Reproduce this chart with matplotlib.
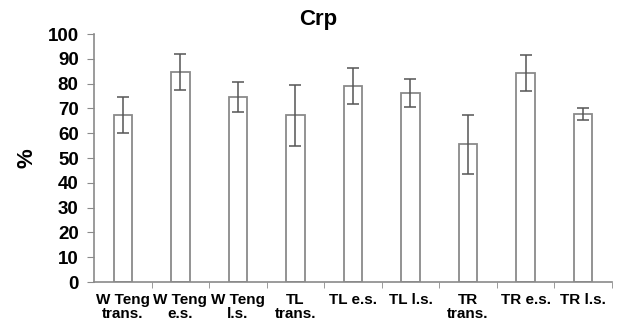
import numpy as np
import matplotlib.pyplot as plt

plt.rcParams['font.family'] = ['Liberation Sans', 'DejaVu Sans']

labels = ['W Teng\ntrans.', 'W Teng\ne.s.', 'W Teng\nl.s.', 'TL\ntrans.', 'TL e.s.',
          'TL l.s.', 'TR\ntrans.', 'TR e.s.', 'TR l.s.']
values = [67.3, 84.8, 74.5, 67.2, 79.0, 76.3, 55.6, 84.3, 67.7]
errors = [7.2, 7.3, 6.0, 12.4, 7.3, 5.7, 11.9, 7.1, 2.3]

x = np.arange(len(labels))
grey = '#8a8a8a'

fig = plt.figure(figsize=(6.25, 3.27), dpi=100)
ax = fig.add_axes([0.1504, 0.1376, 0.8286, 0.7584])

ax.bar(x, values, width=0.32, color='white', edgecolor=grey, linewidth=1.3)
ax.errorbar(x, values, yerr=errors, fmt='none', ecolor='#555555', elinewidth=1.1,
            capsize=4, capthick=1.1)

ax.set_xlim(-0.5, len(labels) - 0.5)
ax.set_ylim(0, 100)
ax.set_yticks(np.arange(0, 101, 10))
ax.set_xticks(x)
ax.set_xticklabels(labels, fontsize=11, fontweight='bold', linespacing=1.0)
ax.set_xticks(np.arange(0.5, len(labels), 1), minor=True)
ax.tick_params(axis='x', which='major', length=0, pad=8)
ax.tick_params(axis='x', which='minor', length=4, direction='out', color=grey)
ax.tick_params(axis='y', length=5, color=grey, pad=6)
for lab in ax.get_yticklabels():
    lab.set_fontsize(13.5)
    lab.set_fontweight('bold')

for s in ['top', 'right']:
    ax.spines[s].set_visible(False)
for s in ['left', 'bottom']:
    ax.spines[s].set_color(grey)
    ax.spines[s].set_linewidth(1.2)

ax.set_ylabel('%', fontsize=16, fontweight='bold', labelpad=7)
fig.text(0.509, 0.94, 'Crp', ha='center', va='center', fontsize=16, fontweight='bold')

fig.savefig('out.png', dpi=100)
